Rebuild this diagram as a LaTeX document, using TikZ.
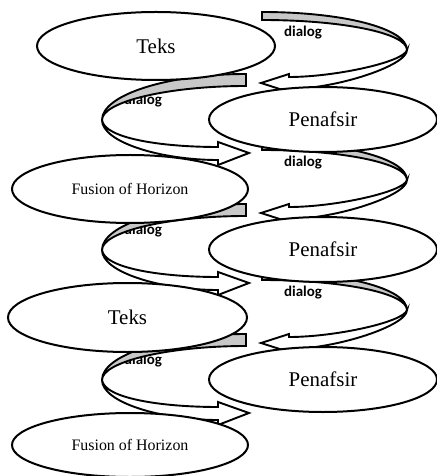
\documentclass[tikz,border=0pt]{standalone}
\usepackage{fontspec}
\setmainfont{Liberation Serif}
\newfontfamily\dlgfont{Carlito}
\usetikzlibrary{shapes.geometric}
\definecolor{bandgray}{RGB}{200,200,200}
\begin{document}
\begin{tikzpicture}[x=1bp,y=-1bp,
  oval/.style={ellipse, draw=black, fill=white, line width=2bp, inner sep=0pt},
  band/.style={draw=black, line width=1.9bp, line join=miter},
  dlg/.style={font=\dlgfont\bfseries\fontsize{15}{18}\selectfont, inner sep=0pt},
  bigtxt/.style={font=\fontsize{21}{24}\selectfont},
  smalltxt/.style={font=\fontsize{16}{19}\selectfont}]
\useasboundingbox (0,0) rectangle (437,476);

% labels
\node[dlg] (d1) at (303,33) {dialog};
\node[dlg] (d2) at (143,101) {dialog};
\node[dlg] (d3) at (303,163) {dialog};
\node[dlg] (d4) at (143,231) {dialog};
\node[dlg] (d5) at (303,293) {dialog};
\node[dlg] (d6) at (143,361) {dialog};

% curved ribbon arrows
\foreach \k in {0,1,2} {
  \begin{scope}[shift={(0,130*\k)}]
    % right arrow
    \draw[band, fill=white] (407,50) .. controls (407,66) and (335,89) .. (289,89)
      -- (289,92) -- (261,83) -- (289,74) -- (289,77)
      .. controls (335,77) and (404,62) .. (407,50) -- cycle;
    \draw[band, fill=bandgray] (262,12) .. controls (342,12) and (407,28) .. (407,50)
      .. controls (407,33) and (342,20) .. (262,20) -- cycle;
    % left arrow
    \draw[band, fill=white] (102,120) .. controls (102,142) and (160,160) .. (218,160)
      -- (218,165) -- (249,153) -- (218,142) -- (218,147)
      .. controls (160,147) and (104,138) .. (102,120) -- cycle;
    \draw[band, fill=bandgray] (246,74) .. controls (167,74) and (102,95) .. (102,120)
      .. controls (102,102) and (167,86) .. (246,86) -- cycle;
  \end{scope}
}

% ellipses
\node[oval, bigtxt, minimum width=238bp, minimum height=68bp] (teks1) at (156,46) {Teks};
\node[oval, bigtxt, minimum width=228bp, minimum height=65bp] (pen1) at (323,119.5) {Penafsir};
\node[oval, smalltxt, minimum width=236bp, minimum height=68bp] (fus1) at (130,189) {Fusion of Horizon};
\node[oval, bigtxt, minimum width=228bp, minimum height=65bp] (pen2) at (323,249.5) {Penafsir};
\node[oval, bigtxt, minimum width=239bp, minimum height=69bp] (teks2) at (127.5,317.5) {Teks};
\node[oval, bigtxt, minimum width=228bp, minimum height=65bp] (pen3) at (323,379.5) {Penafsir};
\node[oval, smalltxt, minimum width=236bp, minimum height=64bp] (fus2) at (130,445) {Fusion of Horizon};
\end{tikzpicture}
\end{document}
